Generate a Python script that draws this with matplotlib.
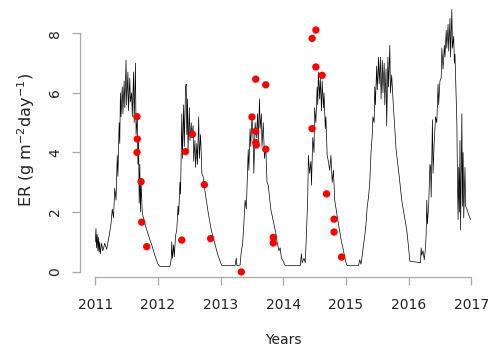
import numpy as np
import matplotlib
matplotlib.use("Agg")
import matplotlib.pyplot as plt

# daily ER series (decimal years, g m-2 day-1)
er_year = [
    2011.00, 2011.01, 2011.02, 2011.03, 2011.04, 2011.05, 2011.06, 2011.07, 2011.08, 2011.10,
    2011.12, 2011.15, 2011.18, 2011.22, 2011.25, 2011.27, 2011.29, 2011.31, 2011.33, 2011.35,
    2011.36, 2011.38, 2011.39, 2011.40, 2011.41, 2011.43, 2011.44, 2011.46, 2011.47, 2011.49,
    2011.50, 2011.52, 2011.53, 2011.55, 2011.56, 2011.58, 2011.59, 2011.61, 2011.62, 2011.64,
    2011.65, 2011.67, 2011.68, 2011.69, 2011.70, 2011.71, 2011.72, 2011.73, 2011.75, 2011.80,
    2011.85, 2011.90, 2011.95, 2012.00, 2012.03, 2012.19,
    2012.21, 2012.22, 2012.23, 2012.25, 2012.26, 2012.28, 2012.30, 2012.32, 2012.33, 2012.35,
    2012.36, 2012.38, 2012.39, 2012.41, 2012.42, 2012.44, 2012.45, 2012.46, 2012.47, 2012.48,
    2012.50, 2012.51, 2012.53, 2012.54, 2012.56, 2012.57, 2012.59, 2012.60, 2012.62, 2012.63,
    2012.65, 2012.66, 2012.68, 2012.70, 2012.72, 2012.75, 2012.80, 2012.85, 2012.90, 2012.95,
    2013.00, 2013.02, 2013.23, 2013.25, 2013.26, 2013.31,
    2013.33, 2013.35, 2013.37, 2013.39, 2013.41, 2013.43, 2013.44, 2013.45, 2013.47, 2013.48,
    2013.50, 2013.52, 2013.53, 2013.55, 2013.57, 2013.59, 2013.60, 2013.62, 2013.63, 2013.65,
    2013.66, 2013.68, 2013.70, 2013.72, 2013.74, 2013.76, 2013.80, 2013.85, 2013.88, 2013.90,
    2013.93, 2013.95, 2013.97, 2014.00, 2014.03, 2014.27, 2014.29, 2014.30, 2014.33, 2014.35,
    2014.37, 2014.39, 2014.40, 2014.42, 2014.44, 2014.45, 2014.47, 2014.49, 2014.50, 2014.52,
    2014.54, 2014.55, 2014.56, 2014.58, 2014.59, 2014.61, 2014.62, 2014.64, 2014.65, 2014.67,
    2014.68, 2014.70, 2014.72, 2014.74, 2014.76, 2014.78, 2014.80, 2014.82, 2014.85, 2014.88,
    2014.92, 2014.96, 2015.00, 2015.02, 2015.20, 2015.22, 2015.24, 2015.26, 2015.28, 2015.30,
    2015.32, 2015.34, 2015.36, 2015.38, 2015.40, 2015.42, 2015.43, 2015.45, 2015.46, 2015.47,
    2015.49, 2015.50, 2015.52, 2015.53, 2015.55, 2015.56, 2015.58, 2015.59, 2015.61, 2015.62,
    2015.64, 2015.65, 2015.67, 2015.68, 2015.70, 2015.71, 2015.73, 2015.75, 2015.80, 2015.85,
    2015.89, 2015.93, 2015.97, 2016.00, 2016.02, 2016.19, 2016.20, 2016.21, 2016.23, 2016.25,
    2016.27, 2016.28, 2016.29, 2016.30, 2016.32, 2016.34, 2016.35, 2016.36, 2016.38, 2016.39,
    2016.41, 2016.43, 2016.45, 2016.47, 2016.48, 2016.50, 2016.52, 2016.53, 2016.55, 2016.57,
    2016.58, 2016.60, 2016.61, 2016.63, 2016.64, 2016.66, 2016.67, 2016.69, 2016.70, 2016.72,
    2016.73, 2016.74, 2016.76, 2016.77, 2016.78, 2016.79, 2016.80, 2016.81, 2016.82, 2016.83,
    2016.85, 2016.86, 2016.87, 2016.88, 2016.90, 2016.91, 2016.93, 2016.96, 2016.99,
]
er_value = [
    1.00, 1.45, 0.80, 1.25, 0.70, 1.15, 0.65, 1.00, 0.60, 0.95,
    0.70, 0.95, 0.75, 1.20, 1.60, 2.10, 1.80, 2.80, 2.40, 3.90,
    3.20, 5.00, 4.30, 6.00, 5.20, 6.20, 5.30, 6.40, 5.50, 7.10,
    5.60, 6.70, 5.40, 6.50, 5.70, 6.00, 5.20, 6.70, 5.00, 7.00,
    4.60, 5.20, 3.60, 4.40, 2.30, 3.60, 2.00, 3.00, 1.95, 1.55,
    1.20, 0.90, 0.55, 0.25, 0.17, 0.17,
    0.40, 1.00, 0.45, 0.90, 0.50, 1.20, 1.40, 2.20, 1.90, 3.00,
    2.60, 5.30, 3.80, 5.60, 4.20, 6.20, 6.30, 4.60, 5.80, 4.10,
    5.50, 4.40, 5.00, 4.50, 4.90, 3.70, 4.40, 3.50, 4.30, 3.60,
    5.20, 3.80, 4.60, 3.30, 3.20, 2.70, 2.00, 1.40, 1.00, 0.60,
    0.30, 0.20, 0.20, 0.45, 0.20, 0.22,
    0.70, 0.90, 1.60, 2.40, 2.10, 3.50, 4.10, 3.40, 4.80, 4.20,
    5.20, 4.40, 3.30, 5.00, 4.50, 5.30, 4.30, 5.80, 4.80, 5.30,
    4.20, 5.00, 3.80, 4.20, 3.00, 2.90, 2.10, 1.60, 1.30, 1.00,
    0.70, 0.80, 0.45, 0.35, 0.20, 0.20, 0.60, 0.30, 0.45, 0.30,
    1.30, 2.50, 3.90, 3.30, 3.70, 2.90, 4.50, 4.00, 5.50, 5.00,
    6.20, 5.60, 6.70, 5.80, 6.50, 5.40, 6.40, 5.50, 6.00, 4.80,
    5.20, 3.90, 3.70, 3.40, 3.90, 3.00, 3.40, 2.40, 2.00, 1.60,
    1.10, 0.70, 0.30, 0.20, 0.20, 0.40, 0.25, 0.55, 0.90, 1.20,
    1.60, 2.20, 2.50, 3.00, 4.00, 4.60, 5.20, 5.00, 6.20, 5.60,
    6.90, 6.10, 7.20, 6.30, 7.20, 5.80, 7.10, 6.00, 7.00, 5.60,
    6.80, 4.90, 7.20, 6.20, 7.60, 6.00, 6.60, 5.80, 4.10, 3.20,
    2.40, 1.90, 1.40, 0.80, 0.35, 0.30, 0.80, 0.55, 0.70, 0.40,
    0.80, 1.30, 2.40, 1.60, 2.20, 3.60, 3.50, 2.50, 5.10, 3.30,
    4.40, 5.20, 5.00, 6.30, 5.60, 6.40, 6.50, 7.50, 6.80, 7.60,
    7.20, 8.10, 7.50, 8.30, 7.40, 8.50, 7.20, 8.80, 7.50, 7.90,
    7.00, 7.30, 5.80, 5.00, 3.00, 1.75, 3.50, 2.00, 4.40, 1.40,
    5.30, 2.20, 4.00, 1.80, 3.50, 2.20, 2.10, 1.90, 1.75,
]

# measured ER (red points)
obs_year = [
    2011.665, 2011.67, 2011.665, 2011.73, 2011.74, 2011.82,
    2012.38, 2012.44, 2012.55, 2012.74, 2012.84,
    2013.33, 2013.50, 2013.56, 2013.72, 2013.56, 2013.56, 2013.57, 2013.72, 2013.84, 2013.84,
    2014.46, 2014.52, 2014.52, 2014.62, 2014.46, 2014.69, 2014.81, 2014.81, 2014.93,
]
obs_value = [
    5.20, 4.45, 4.00, 3.02, 1.66, 0.84,
    1.06, 4.03, 4.61, 2.92, 1.11,
    -0.01, 5.19, 6.46, 6.27, 4.71, 4.33, 4.25, 4.11, 1.15, 0.96,
    7.83, 8.11, 6.87, 6.59, 4.80, 2.61, 1.76, 1.33, 0.49,
]

year_ticks = [2011, 2012, 2013, 2014, 2015, 2016, 2017]
er_ticks = [0, 2, 4, 6, 8]

axis_grey = "#a8a8a8"

fig = plt.figure(figsize=(4.94, 3.54), dpi=100)
ax = fig.add_axes([80.3 / 494, 77 / 354, 406 / 494, 273.5 / 354])

ax.plot(er_year, er_value, color="black", lw=0.5)
ax.scatter(obs_year, obs_value, s=28, color="red", edgecolors="none", zorder=3)

ax.set_xlim(2010.76, 2017.24)
ax.set_ylim(-0.18, 9.0)
ax.set_xticks(year_ticks)
ax.set_yticks(er_ticks)

for side in ["top", "right"]:
    ax.spines[side].set_visible(False)
ax.spines["left"].set_bounds(0, 8)
ax.spines["bottom"].set_bounds(2011, 2017)
for side in ["left", "bottom"]:
    ax.spines[side].set_color(axis_grey)
    ax.spines[side].set_linewidth(0.9)

ax.tick_params(length=6, width=0.9, color=axis_grey, labelsize=10,
               labelcolor="#222222", pad=7)
ax.tick_params(axis="x", pad=9)
ax.tick_params(axis="y", labelrotation=90)
for lab in ax.get_yticklabels():
    lab.set_va("center")

ax.set_xlabel("Years", fontsize=10, color="#222222", labelpad=15)
ax.set_ylabel("ER (g m$^{-2}$day$^{-1}$)", fontsize=11.5, color="#222222", labelpad=8)

fig.savefig("out.png", dpi=100)
